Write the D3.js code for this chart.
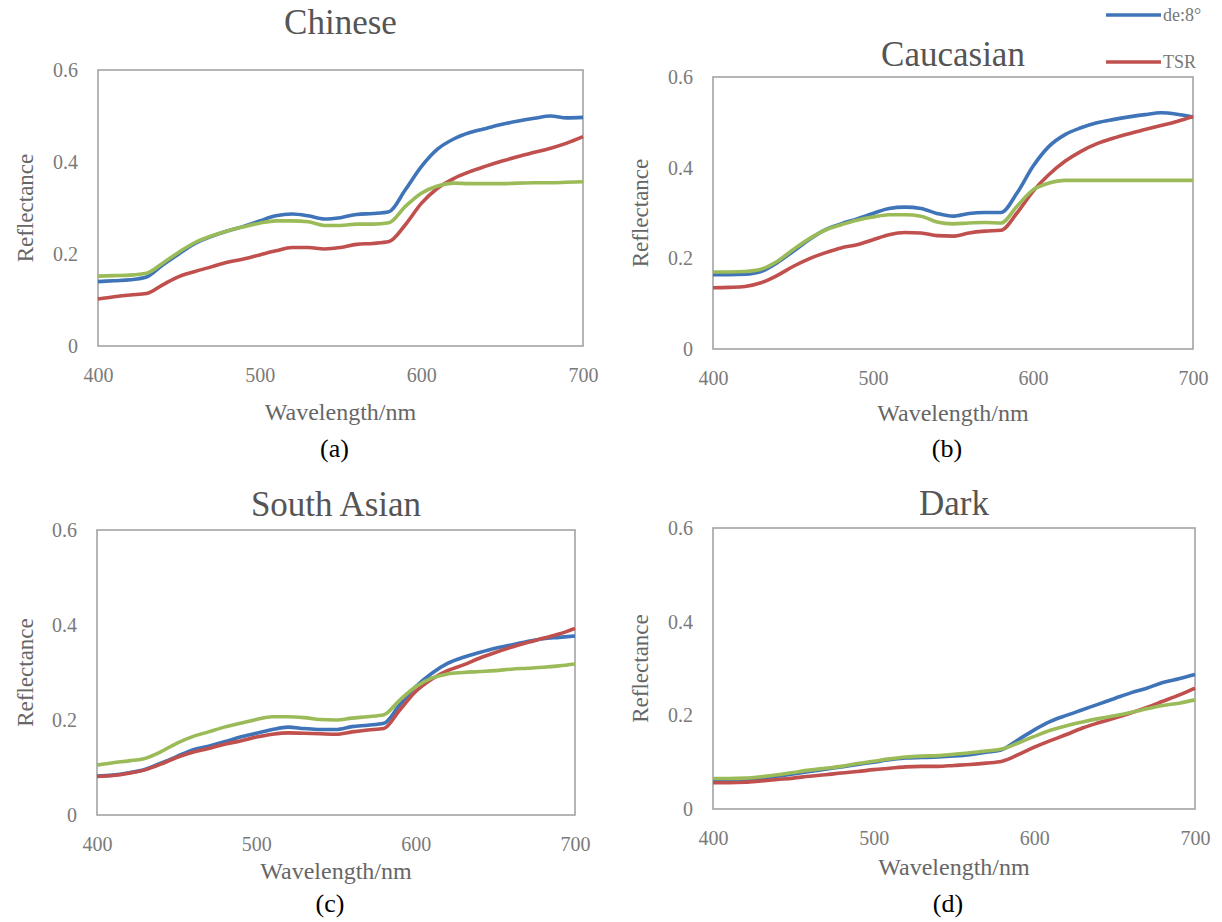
<!DOCTYPE html>
<html>
<head>
<meta charset="utf-8">
<script src="https://cdn.jsdelivr.net/npm/d3@7/dist/d3.min.js"></script>
<style>
  html, body { margin: 0; padding: 0; background: #fff; }
  svg text { font-family: "Liberation Serif", "Times New Roman", serif; }
</style>
</head>
<body>
<svg id="chart" width="1222" height="922"></svg>
<script>
// Wavelength samples (nm)
const wavelengths = [400, 410, 420, 430, 440, 450, 460, 470, 480, 490, 500,
  510, 520, 530, 540, 550, 560, 570, 580, 590, 600,
  610, 620, 630, 640, 650, 660, 670, 680, 690, 700];

const xTicks = [400, 500, 600, 700];
const yTicks = [0, 0.2, 0.4, 0.6];
const yTickLabels = ["0", "0.2", "0.4", "0.6"];

const panelTitles = ["Chinese", "Caucasian", "South Asian", "Dark"];
const panelLetters = ["(a)", "(b)", "(c)", "(d)"];
const legendNames = ["de:8°", "TSR"];

// Chinese
const chineseDe8 = [0.140, 0.142, 0.144, 0.150, 0.176, 0.200, 0.223, 0.238, 0.250, 0.260, 0.272,
  0.283, 0.287, 0.283, 0.276, 0.279, 0.286, 0.288, 0.292, 0.339, 0.390,
  0.428, 0.450, 0.464, 0.473, 0.482, 0.489, 0.495, 0.500, 0.496, 0.497];
const chineseTSR = [0.102, 0.107, 0.111, 0.114, 0.133, 0.151, 0.162, 0.172, 0.182, 0.189, 0.198,
  0.207, 0.214, 0.214, 0.211, 0.214, 0.221, 0.223, 0.227, 0.263, 0.310,
  0.343, 0.364, 0.379, 0.391, 0.402, 0.412, 0.421, 0.430, 0.441, 0.455];
const chineseAlt = [0.152, 0.153, 0.154, 0.158, 0.180, 0.204, 0.225, 0.239, 0.250, 0.259, 0.267,
  0.272, 0.272, 0.270, 0.262, 0.262, 0.265, 0.265, 0.268, 0.303, 0.332,
  0.348, 0.354, 0.353, 0.353, 0.353, 0.354, 0.355, 0.355, 0.356, 0.357];

// Caucasian
const caucasianDe8 = [0.164, 0.164, 0.165, 0.171, 0.190, 0.215, 0.241, 0.263, 0.276, 0.287, 0.299,
  0.310, 0.313, 0.310, 0.299, 0.293, 0.299, 0.301, 0.301, 0.344, 0.403,
  0.447, 0.473, 0.488, 0.499, 0.506, 0.512, 0.517, 0.521, 0.518, 0.512];
const caucasianTSR = [0.135, 0.136, 0.138, 0.146, 0.162, 0.182, 0.199, 0.212, 0.223, 0.230, 0.241,
  0.252, 0.257, 0.256, 0.250, 0.249, 0.256, 0.260, 0.262, 0.300, 0.348,
  0.385, 0.414, 0.436, 0.453, 0.465, 0.475, 0.484, 0.493, 0.502, 0.513];
const caucasianAlt = [0.170, 0.170, 0.171, 0.176, 0.193, 0.219, 0.243, 0.262, 0.274, 0.284, 0.291,
  0.296, 0.296, 0.293, 0.280, 0.276, 0.278, 0.279, 0.278, 0.315, 0.351,
  0.366, 0.372, 0.372, 0.372, 0.372, 0.372, 0.372, 0.372, 0.372, 0.372];

// South Asian
const southAsianDe8 = [0.082, 0.084, 0.089, 0.096, 0.109, 0.123, 0.137, 0.145, 0.154, 0.164, 0.172,
  0.180, 0.185, 0.182, 0.180, 0.180, 0.186, 0.189, 0.193, 0.232, 0.270,
  0.298, 0.319, 0.332, 0.342, 0.351, 0.358, 0.365, 0.371, 0.374, 0.377];
const southAsianTSR = [0.081, 0.083, 0.088, 0.095, 0.107, 0.121, 0.132, 0.140, 0.149, 0.156, 0.164,
  0.170, 0.173, 0.172, 0.171, 0.170, 0.175, 0.179, 0.182, 0.221, 0.260,
  0.286, 0.304, 0.316, 0.330, 0.342, 0.353, 0.363, 0.372, 0.381, 0.393];
const southAsianAlt = [0.105, 0.110, 0.114, 0.119, 0.133, 0.151, 0.165, 0.175, 0.185, 0.193, 0.201,
  0.207, 0.207, 0.205, 0.201, 0.200, 0.204, 0.207, 0.211, 0.242, 0.270,
  0.288, 0.297, 0.300, 0.302, 0.304, 0.307, 0.309, 0.311, 0.314, 0.318];

// Dark
const darkDe8 = [0.060, 0.061, 0.063, 0.066, 0.070, 0.075, 0.080, 0.085, 0.090, 0.095, 0.100,
  0.105, 0.109, 0.110, 0.111, 0.113, 0.116, 0.121, 0.127, 0.148, 0.169,
  0.187, 0.200, 0.212, 0.224, 0.236, 0.248, 0.258, 0.270, 0.278, 0.287];
const darkTSR = [0.056, 0.056, 0.057, 0.060, 0.063, 0.066, 0.070, 0.073, 0.077, 0.080, 0.084,
  0.087, 0.090, 0.091, 0.091, 0.093, 0.095, 0.098, 0.102, 0.116, 0.132,
  0.146, 0.159, 0.173, 0.184, 0.194, 0.205, 0.217, 0.230, 0.243, 0.258];
const darkAlt = [0.065, 0.065, 0.066, 0.069, 0.073, 0.078, 0.083, 0.087, 0.091, 0.097, 0.102,
  0.107, 0.111, 0.113, 0.114, 0.117, 0.120, 0.124, 0.128, 0.141, 0.155,
  0.168, 0.178, 0.186, 0.193, 0.199, 0.206, 0.214, 0.221, 0.226, 0.233];

const panelSeries = [
  [chineseDe8, chineseTSR, chineseAlt],
  [caucasianDe8, caucasianTSR, caucasianAlt],
  [southAsianDe8, southAsianTSR, southAsianAlt],
  [darkDe8, darkTSR, darkAlt]
];

const seriesColors = ["#3f74b8", "#c0504d", "#9bbb59"];

// Plot frames and label offsets for the 2x2 grid
const frames = [
  { l: 98,  r: 583,  t: 70,  b: 346, titleY: 34,  yLabX: 25,  wlGap: 74, letterY: 457 },
  { l: 713, r: 1193, t: 77,  b: 349, titleY: 66,  yLabX: 640, wlGap: 72, letterY: 457 },
  { l: 97,  r: 575,  t: 530, b: 815, titleY: 516, yLabX: 25,  wlGap: 64, letterY: 912 },
  { l: 713, r: 1195, t: 528, b: 809, titleY: 515, yLabX: 640, wlGap: 66, letterY: 912 }
];

const svg = d3.select("#chart");

frames.forEach((f, i) => {
  const x = d3.scaleLinear().domain([400, 700]).range([f.l, f.r]);
  const y = d3.scaleLinear().domain([0, 0.6]).range([f.b, f.t]);
  const g = svg.append("g");

  // frame around the plot area
  g.append("rect")
    .attr("x", f.l).attr("y", f.t)
    .attr("width", f.r - f.l).attr("height", f.b - f.t)
    .attr("fill", "none").attr("stroke", "#a3a3a3").attr("stroke-width", 1.6);

  // axes (labels only, the frame carries the lines)
  const xAxis = d3.axisBottom(x).tickValues(xTicks).tickSize(0).tickPadding(22)
    .tickFormat(d3.format("d"));
  const gx = g.append("g").attr("transform", `translate(0,${f.b})`).call(xAxis);
  const yAxis = d3.axisLeft(y).tickValues(yTicks).tickSize(0).tickPadding(20)
    .tickFormat((d, k) => yTickLabels[k]);
  const gy = g.append("g").attr("transform", `translate(${f.l},0)`).call(yAxis);
  [gx, gy].forEach(a => {
    a.select(".domain").remove();
    a.selectAll("text")
      .attr("font-family", "Liberation Serif, Times New Roman, serif")
      .attr("font-size", 20).attr("fill", "#7a7a7a");
  });

  // series lines
  const line = d3.line()
    .x((d, k) => x(wavelengths[k]))
    .y(d => y(d))
    .curve(d3.curveMonotoneX);
  panelSeries[i].forEach((vals, s) => {
    g.append("path")
      .datum(vals)
      .attr("d", line)
      .attr("fill", "none")
      .attr("stroke", seriesColors[s])
      .attr("stroke-width", 3.6)
      .attr("stroke-linejoin", "round");
  });

  // panel title
  g.append("text")
    .attr("x", (f.l + f.r) / 2).attr("y", f.titleY)
    .attr("text-anchor", "middle")
    .attr("font-size", 35).attr("fill", "#555")
    .text(panelTitles[i]);

  // axis titles
  g.append("text")
    .attr("x", (f.l + f.r) / 2).attr("y", f.b + f.wlGap)
    .attr("text-anchor", "middle")
    .attr("font-size", 24).attr("fill", "#666")
    .text("Wavelength/nm");
  g.append("text")
    .attr("transform", `translate(${f.yLabX + 8},${(f.t + f.b) / 2}) rotate(-90)`)
    .attr("text-anchor", "middle")
    .attr("font-size", 23).attr("fill", "#666")
    .text("Reflectance");

  // sub-figure letter
  g.append("text")
    .attr("x", (f.l + f.r) / 2 - 6).attr("y", f.letterY)
    .attr("text-anchor", "middle")
    .attr("font-size", 26).attr("fill", "#000")
    .text(panelLetters[i]);
});

// legend in the top-right corner
const legend = svg.append("g");
const legendY = [15, 62];
legendNames.forEach((name, s) => {
  legend.append("line")
    .attr("x1", 1106).attr("x2", 1161)
    .attr("y1", legendY[s]).attr("y2", legendY[s])
    .attr("stroke", seriesColors[s]).attr("stroke-width", 3.6);
  legend.append("text")
    .attr("x", 1163).attr("y", legendY[s] + 6)
    .attr("font-size", 18).attr("fill", "#777")
    .text(name);
});
</script>
</body>
</html>
